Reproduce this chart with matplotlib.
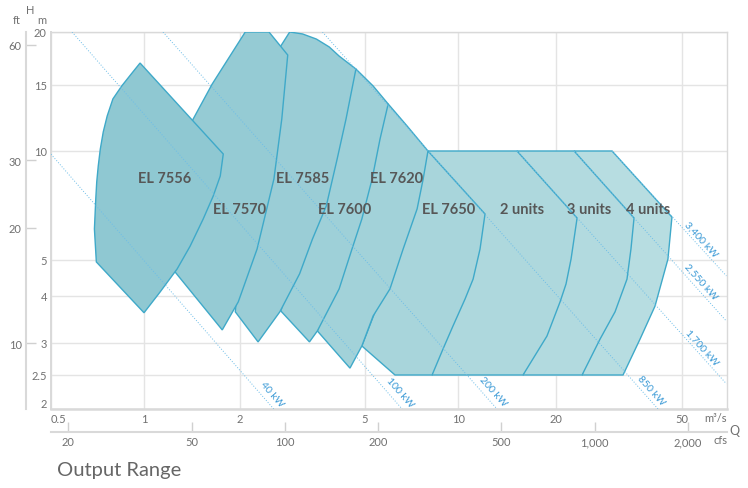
import numpy as np
import matplotlib.pyplot as plt
from matplotlib.patches import Polygon
from matplotlib.ticker import NullLocator

plt.rcParams['font.family'] = ['Lato', 'DejaVu Sans']

W, HP = 748, 489

# turbine envelopes, corners as (Q m3/s, H m)
el_7556 = [(0.971, 16.9), (1.772, 9.81), (1.734, 8.53), (1.648, 7.51), (1.533, 6.49),
           (1.395, 5.46), (1.270, 4.73), (1.123, 4.10), (1.0, 3.61), (0.701, 4.94),
           (0.691, 6.09), (0.698, 7.37), (0.703, 8.21), (0.711, 9.09), (0.722, 10.12),
           (0.738, 11.24), (0.760, 12.40), (0.793, 13.77), (0.847, 14.91), (0.904, 15.84)]
el_7570 = [(2.078, 20), (2.473, 20), (2.837, 17.65), (2.716, 12.17), (2.564, 8.37),
           (2.266, 5.36), (1.975, 3.86), (1.759, 3.25), (1.252, 4.64), (1.164, 6.49),
           (1.207, 8.92), (1.426, 12.17), (1.636, 15.08)]
el_7585 = [(2.697, 18.54), (2.878, 20), (3.162, 19.79), (3.499, 19.25), (3.846, 18.44),
           (4.135, 17.55), (4.676, 16.36), (4.349, 12.17), (4.075, 9.50), (3.763, 7.05),
           (3.400, 5.71), (3.095, 4.59), (2.677, 3.63), (2.283, 3.02), (1.933, 3.63),
           (2.004, 5.36), (2.154, 8.37), (2.350, 12.17), (2.582, 16.36)]
el_7600 = [(4.676, 16.36), (5.31, 14.91), (5.94, 13.35), (5.59, 10.76), (5.27, 8.37),
           (4.884, 6.49), (4.543, 5.36), (4.135, 4.18), (3.525, 3.23), (3.327, 3.02),
           (2.697, 3.65), (3.095, 5.36), (3.450, 7.37), (3.846, 10.12), (4.287, 13.77)]
el_7620 = [(5.94, 13.35), (6.84, 11.66), (7.99, 10.0), (7.71, 8.37), (7.37, 6.92),
           (6.64, 5.36), (6.02, 4.18), (5.31, 3.54), (4.884, 2.95), (4.477, 2.60),
           (3.525, 3.23), (3.988, 4.44), (4.445, 6.49), (5.0, 9.50), (5.59, 12.17)]
el_7650 = [(7.99, 10.0), (12.10, 6.70), (11.68, 5.36), (11.12, 4.44), (10.51, 3.93),
           (9.63, 3.33), (8.94, 2.90), (8.24, 2.5), (6.25, 2.5), (4.884, 2.95),
           (5.59, 3.93), (6.49, 5.36), (7.26, 7.37)]
two_units = [(7.99, 10.0), (15.17, 10.0), (23.30, 6.53), (22.30, 5.03), (21.50, 4.31),
             (20.59, 3.86), (18.75, 3.13), (15.83, 2.5), (8.24, 2.5), (8.74, 3.93),
             (9.42, 6.49)]
three_units = [(15.17, 10.0), (22.80, 10.0), (35.25, 6.53), (34.47, 5.36), (33.49, 4.44),
               (30.70, 3.63), (27.52, 3.07), (24.16, 2.5), (15.83, 2.5), (18.49, 3.93),
               (20.59, 6.49)]
four_units = [(22.80, 10.0), (30.04, 10.0), (46.44, 6.57), (45.11, 5.03), (41.06, 3.76),
              (36.81, 3.07), (32.54, 2.5), (24.16, 2.5), (28.55, 3.93), (31.84, 6.49)]

envelopes = [el_7556, el_7570, el_7585, el_7600, el_7620, el_7650,
             two_units, three_units, four_units]
names = ['EL 7556', 'EL 7570', 'EL 7585', 'EL 7600', 'EL 7620', 'EL 7650',
         '2 units', '3 units', '4 units']
name_q = [1.164, 1.990, 3.162, 4.320, 6.30, 9.35, 15.72, 25.42, 39.0]
name_h = [8.42, 6.92, 8.42, 6.92, 8.42, 6.92, 6.92, 6.92, 6.92]

# constant output lines
power_labels = ['40 kW', '100 kW', '200 kW', '850 kW', '1,700 kW', '2,550 kW', '3,400 kW']
line_start = [(0.5, 9.8), (0.585, 20), (1.147, 20), (3.66, 20), (15.17, 10), (22.80, 10), (30.04, 10)]
line_end = [(2.56, 2.0), (6.59, 2.0), (13.17, 2.0), (41.97, 2.0), (69, 2.36), (69, 3.43), (69, 4.53)]
label_at = [(2.53, 2.21), (6.49, 2.24), (12.80, 2.25), (39.9, 2.27), (57.8, 2.93), (57.4, 4.39), (57.4, 5.71)]

q_ticks = [0.5, 1, 2, 5, 10, 20, 50]
q_labels = ['0.5', '1', '2', '5', '10', '20', '50']
h_ticks = [2, 2.5, 3, 4, 5, 10, 15, 20]
h_labels = ['2', '2.5', '3', '4', '5', '10', '15', '20']
cfs_ticks = [20, 50, 100, 200, 500, 1000, 2000]
cfs_labels = ['20', '50', '100', '200', '500', '1,000', '2,000']
ft_ticks = [10, 20, 30, 60]
ft_labels = ['10', '20', '30', '60']

fills = ['#8fc8d2', '#95cbd4', '#9acdd6', '#9ed0d8', '#a2d2d9', '#a8d5db',
         '#aed8dd', '#b2dadf', '#b7dde1']
edge = '#3fa9c9'
grey = '#707070'
blue = '#3b9ad6'


def drawn_log(values, places):
    # the printed chart's log axes are not quite even; follow its grid
    lv = np.log10(values)
    pl = np.asarray(places, float)

    def fwd(v):
        l = np.log10(np.clip(v, 1e-9, None))
        out = np.interp(l, lv, pl)
        out = np.where(l < lv[0], pl[0] + (l - lv[0]) * (pl[1] - pl[0]) / (lv[1] - lv[0]), out)
        out = np.where(l > lv[-1], pl[-1] + (l - lv[-1]) * (pl[-1] - pl[-2]) / (lv[-1] - lv[-2]), out)
        return out

    def inv(p):
        out = np.interp(p, pl, lv)
        out = np.where(p < pl[0], lv[0] + (p - pl[0]) * (lv[1] - lv[0]) / (pl[1] - pl[0]), out)
        out = np.where(p > pl[-1], lv[-1] + (p - pl[-1]) * (lv[-1] - lv[-2]) / (pl[-1] - pl[-2]), out)
        return 10 ** out

    return fwd, inv


x_scale = drawn_log([0.5, 1, 2, 5, 10, 20, 50], [0, 93, 189, 314, 407, 505, 631])
y_scale = drawn_log([2, 2.5, 3, 4, 5, 10, 15, 20], [0, 34, 66, 113, 149, 258, 324, 377])

fig = plt.figure(figsize=(W / 100, HP / 100), dpi=100)
ax = fig.add_axes([51 / W, 1 - 410 / HP, 676 / W, 377 / HP])
ax.set_xscale('function', functions=x_scale)
ax.set_yscale('function', functions=y_scale)
ax.set_xlim(0.5, 69.3)
ax.set_ylim(2, 20)
ax.set_xticks(q_ticks, q_labels)
ax.set_yticks(h_ticks, h_labels)
ax.xaxis.set_minor_locator(NullLocator())
ax.yaxis.set_minor_locator(NullLocator())
ax.tick_params(length=0, labelsize=8, labelcolor=grey, pad=3)
ax.get_xticklabels()[0].set_ha('left')
ax.get_yticklabels()[0].set_va('bottom')
ax.grid(color='#e4e4e4', lw=1)
ax.set_axisbelow(True)
for s in ax.spines.values():
    s.set_color('#d9d9d9')
    s.set_linewidth(1)
ax.spines['bottom'].set_linewidth(1.8)
ax.spines['left'].set_linewidth(1.4)

# right-most envelope at the bottom, EL 7556 on top
n = len(envelopes)
for i in range(n - 1, -1, -1):
    ax.add_patch(Polygon(envelopes[i], closed=True, fc=fills[i], ec=edge,
                         lw=1, zorder=3 + n - i))

for i in range(len(power_labels)):
    (q0, h0), (q1, h1) = line_start[i], line_end[i]
    ax.plot([q0, q1], [h0, h1], color='#6dbde8', lw=0.7, ls=(0, (1, 1.8)), zorder=20)
    p0 = ax.transData.transform((q0, h0))
    p1 = ax.transData.transform((q1, h1))
    ang = np.degrees(np.arctan2(p1[1] - p0[1], p1[0] - p0[0]))
    ax.text(label_at[i][0], label_at[i][1], power_labels[i], rotation=ang,
            rotation_mode='anchor', ha='center', va='center', fontsize=7.5,
            color=blue, zorder=21)

for i in range(n):
    ax.text(name_q[i], name_h[i], names[i], ha='center', va='center', fontsize=10.5,
            fontweight='bold', color='#575757', zorder=30)

# cfs scale under the m3/s axis
axc = fig.add_axes([51 / W, 1 - 433 / HP, 676 / W, 0.001])
axc.set_xscale('log')
axc.set_xlim(17.6, 2670)
axc.set_xticks(cfs_ticks, cfs_labels)
axc.xaxis.set_minor_locator(NullLocator())
axc.set_yticks([])
for side in ['top', 'left', 'right']:
    axc.spines[side].set_visible(False)
axc.spines['bottom'].set_color('#d9d9d9')
axc.spines['bottom'].set_linewidth(1.5)
axc.patch.set_visible(False)
axc.tick_params(axis='x', direction='in', length=7, width=1, color='#d0d0d0',
                labelsize=8, labelcolor=grey, pad=3)

# ft scale left of the m axis
axf = fig.add_axes([26 / W, 1 - 410 / HP, 0.001, 377 / HP])
axf.set_yscale('log')
axf.set_ylim(6.73, 64.8)
axf.set_yticks(ft_ticks, ft_labels)
axf.yaxis.set_minor_locator(NullLocator())
axf.set_xticks([])
for side in ['top', 'bottom', 'right']:
    axf.spines[side].set_visible(False)
axf.spines['left'].set_color('#d9d9d9')
axf.spines['left'].set_linewidth(1.5)
axf.patch.set_visible(False)
axf.tick_params(axis='y', direction='in', length=7, width=1, color='#d0d0d0',
                labelsize=8, labelcolor=grey, pad=3)

fig.text(17 / W, 1 - 21 / HP, 'ft', ha='center', va='center', fontsize=8, color=grey)
fig.text(30 / W, 1 - 11 / HP, 'H', ha='center', va='center', fontsize=8, color=grey)
fig.text(42 / W, 1 - 21 / HP, 'm', ha='center', va='center', fontsize=8, color=grey)
fig.text(727 / W, 1 - 419 / HP, 'm³/s', ha='right', va='center', fontsize=8, color=grey)
fig.text(727 / W, 1 - 441 / HP, 'cfs', ha='right', va='center', fontsize=8, color=grey)
fig.text(734 / W, 1 - 431 / HP, 'Q', ha='center', va='center', fontsize=9, color=grey)
fig.text(57 / W, 1 - 471 / HP, 'Output Range', ha='left', va='center', fontsize=14.5,
         color='#666666')

fig.savefig('out.png', dpi=100)
